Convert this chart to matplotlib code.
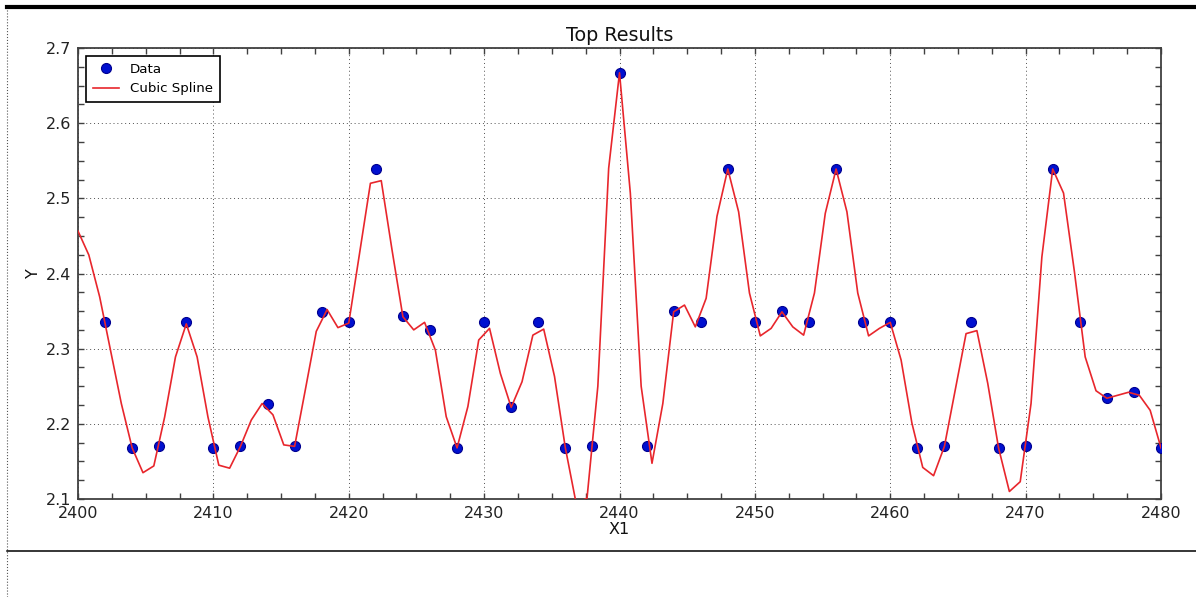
import numpy as np
import matplotlib
matplotlib.use("Agg")
import matplotlib.pyplot as plt
from matplotlib.lines import Line2D
from matplotlib.ticker import MultipleLocator

# ---- data ----
data_x = [2402, 2404, 2406, 2408, 2410, 2412, 2414, 2416, 2418, 2420,
          2422, 2424, 2426, 2428, 2430, 2432, 2434, 2436, 2438, 2440,
          2442, 2444, 2446, 2448, 2450, 2452, 2454, 2456, 2458, 2460,
          2462, 2464, 2466, 2468, 2470, 2472, 2474, 2476, 2478, 2480]
data_y = [2.335, 2.168, 2.170, 2.335, 2.168, 2.170, 2.227, 2.170, 2.349, 2.335,
          2.539, 2.343, 2.325, 2.168, 2.335, 2.222, 2.335, 2.168, 2.170, 2.667,
          2.170, 2.350, 2.335, 2.539, 2.335, 2.350, 2.335, 2.539, 2.335, 2.335,
          2.168, 2.170, 2.335, 2.168, 2.170, 2.539, 2.335, 2.234, 2.242, 2.168]

spline_x = np.linspace(2400, 2480, 101)
spline_y = [2.4565, 2.4246, 2.369, 2.298, 2.227, 2.168, 2.135, 2.144, 2.209, 2.289,
            2.333, 2.289, 2.209, 2.145, 2.141, 2.170, 2.205, 2.227, 2.212, 2.172,
            2.170, 2.246, 2.323, 2.352, 2.328, 2.334, 2.427, 2.520, 2.5235, 2.431,
            2.3425, 2.325, 2.335, 2.298, 2.2095, 2.168, 2.223, 2.3115, 2.327, 2.267,
            2.222, 2.256, 2.318, 2.326, 2.263, 2.168, 2.094, 2.101, 2.250, 2.540,
            2.667, 2.507, 2.250, 2.1475, 2.227, 2.349, 2.358, 2.329, 2.367, 2.476,
            2.539, 2.482, 2.374, 2.317, 2.327, 2.349, 2.329, 2.318, 2.374, 2.480,
            2.539, 2.482, 2.374, 2.317, 2.327, 2.335, 2.285, 2.201, 2.142, 2.131,
            2.170, 2.245, 2.320, 2.324, 2.254, 2.168, 2.110, 2.123, 2.227, 2.422,
            2.539, 2.507, 2.403, 2.289, 2.244, 2.234, 2.238, 2.242, 2.238, 2.218,
            2.168]

title = "Top Results"
xlabel = "X1"
ylabel = "Y"

plt.rcParams['font.family'] = ['DejaVu Sans']

W, H = 1196, 597
fig = plt.figure(figsize=(W / 100, H / 100), dpi=100)
fig.patch.set_facecolor('white')

ax = fig.add_axes([78 / W, 1 - 499 / H, (1161 - 78) / W, (499 - 48) / H])

ax.plot(data_x, data_y, 'o', color='#0010d0', markeredgecolor='#000090',
        markeredgewidth=0.8, markersize=7.2, label='Data', zorder=3)
ax.plot(spline_x, spline_y, '-', color='#e8262c', linewidth=1.2,
        label='Cubic Spline', zorder=4)

ax.set_xlim(2400, 2480)
ax.set_ylim(2.1, 2.7)
ax.xaxis.set_major_locator(MultipleLocator(10))
ax.xaxis.set_minor_locator(MultipleLocator(2.5))
ax.yaxis.set_major_locator(MultipleLocator(0.1))
ax.yaxis.set_minor_locator(MultipleLocator(0.025))

ax.grid(True, which='major', color='#505050', linestyle=(0, (1, 3)), linewidth=0.7)

for s in ax.spines.values():
    s.set_color('#404040')
    s.set_linewidth(1.3)

ax.tick_params(which='both', direction='in', top=True, right=True,
               color='#404040', width=1.0, length=4.5, labelsize=11.5,
               labelcolor='#222222')
ax.tick_params(which='major', pad=5)

ax.set_title(title, fontsize=13.8, color='#111111', pad=5)
ax.set_xlabel(xlabel, fontsize=11.5, color='#111111', labelpad=1)
ax.set_ylabel(ylabel, fontsize=11.5, color='#111111', labelpad=3)

leg = ax.legend(loc='upper left', numpoints=1, fontsize=9.6, fancybox=False,
                framealpha=1, edgecolor='black', borderaxespad=0.6,
                handlelength=2.0, borderpad=0.5)
leg.get_frame().set_linewidth(1.2)

# page frame lines around the chart
fig.add_artist(Line2D([7 / W, 1], [1 - 7 / H, 1 - 7 / H], transform=fig.transFigure,
                      color='black', linewidth=3.0))
fig.add_artist(Line2D([7 / W, 7 / W], [0, 1 - 9 / H], transform=fig.transFigure,
                      color='#555555', linewidth=0.8, linestyle=':'))
fig.add_artist(Line2D([7 / W, 1], [1 - 550.5 / H, 1 - 550.5 / H], transform=fig.transFigure,
                      color='black', linewidth=1.1))

fig.savefig('out.png', dpi=100)
